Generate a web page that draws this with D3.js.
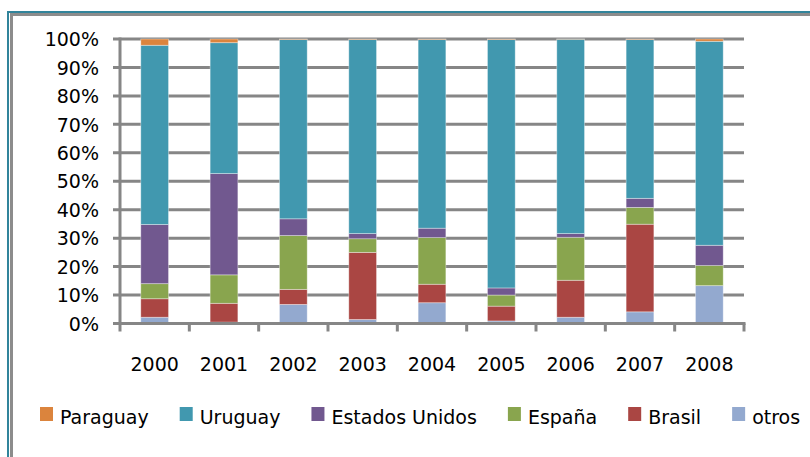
<!DOCTYPE html>
<html>
<head>
<meta charset="utf-8">
<script src="https://cdn.jsdelivr.net/npm/d3@7"></script>
<style>
  body { margin: 0; background: #fff; }
  text { font-family: "DejaVu Sans", sans-serif; font-size: 19px; fill: #000; }
</style>
</head>
<body>
<svg id="chart" width="810" height="457"></svg>
<script>
// shares per year, in percent
var years = ["2000", "2001", "2002", "2003", "2004", "2005", "2006", "2007", "2008"];
var otros         = [2.2, 0.5, 6.7, 1.4, 7.3, 0.9, 2.2, 4.1, 13.3];
var brasil        = [6.5, 6.6, 5.3, 23.6, 6.5, 5.2, 13.0, 30.8, 0.0];
var espana        = [5.3, 10.0, 18.9, 4.8, 16.4, 3.9, 15.1, 5.9, 7.1];
var estadosUnidos = [20.8, 35.6, 5.9, 1.8, 3.3, 2.5, 1.3, 3.2, 7.1];
var uruguay       = [63.0, 46.0, 63.0, 68.2, 66.3, 87.3, 68.3, 55.8, 71.7];
var paraguay      = [2.2, 1.3, 0.2, 0.2, 0.2, 0.2, 0.1, 0.2, 0.8];
var yTicks = [0, 10, 20, 30, 40, 50, 60, 70, 80, 90, 100];

// stacking order, bottom to top
var series = [
    {key: "otros", values: otros, color: "#93A9CF"},
    {key: "Brasil", values: brasil, color: "#AA4643"},
    {key: "España", values: espana, color: "#89A54E"},
    {key: "Estados Unidos", values: estadosUnidos, color: "#71588F"},
    {key: "Uruguay", values: uruguay, color: "#4198AF"},
    {key: "Paraguay", values: paraguay, color: "#DB843D"}
];

var table = years.map(function(y, i) {
    var row = {year: y};
    series.forEach(function(s) { row[s.key] = s.values[i]; });
    return row;
});

var svg = d3.select("#chart");
var gridColor = "#868686";

// frame of the chart object
svg.append("path")
    .attr("d", "M8,460 V12 H812")
    .attr("fill", "none").attr("stroke", "#31849B").attr("stroke-width", 2);
svg.append("path")
    .attr("d", "M11.5,460 V14.5 H812")
    .attr("fill", "none").attr("stroke", "#8c8c8c").attr("stroke-width", 3);

var x = d3.scaleBand().domain(years).range([120, 744]).paddingInner(0.6).paddingOuter(0.3);
var y = d3.scaleLinear().domain([0, 100]).range([323.5, 39]);
var step = x.step();

// gridlines
svg.append("g")
    .selectAll("line")
    .data(yTicks)
    .enter().append("line")
    .attr("x1", 113).attr("x2", 744)
    .attr("y1", function(d) { return y(d); })
    .attr("y2", function(d) { return y(d); })
    .attr("stroke", gridColor).attr("stroke-width", 3);

// y labels
svg.append("g")
    .selectAll("text")
    .data(yTicks)
    .enter().append("text")
    .attr("x", 99)
    .attr("y", function(d) { return y(d); })
    .attr("dy", "0.38em")
    .attr("text-anchor", "end")
    .text(function(d) { return d + "%"; });

// bars
var stack = d3.stack().keys(series.map(function(s) { return s.key; }));
var layers = stack(table);

svg.append("g")
    .selectAll("g")
    .data(layers)
    .enter().append("g")
    .attr("fill", function(d, i) { return series[i].color; })
    .selectAll("rect")
    .data(function(d) { return d; })
    .enter().append("rect")
    .attr("x", function(d) { return x(d.data.year); })
    .attr("width", x.bandwidth())
    .attr("y", function(d) { return y(d[1]); })
    .attr("height", function(d) { return y(d[0]) - y(d[1]); })
    .attr("stroke", "#fff").attr("stroke-opacity", 0.45).attr("stroke-width", 0.8);

// axes
svg.append("line")
    .attr("x1", 120).attr("x2", 120).attr("y1", 37.5).attr("y2", 325)
    .attr("stroke", gridColor).attr("stroke-width", 3);
svg.append("line")
    .attr("x1", 113).attr("x2", 745.5).attr("y1", y(0)).attr("y2", y(0))
    .attr("stroke", gridColor).attr("stroke-width", 3);

var tickXs = years.map(function(d) { return x(d) - step * 0.3; }).concat([744]);
svg.append("g")
    .selectAll("line")
    .data(tickXs)
    .enter().append("line")
    .attr("x1", function(d) { return d; })
    .attr("x2", function(d) { return d; })
    .attr("y1", y(0)).attr("y2", 331.5)
    .attr("stroke", gridColor).attr("stroke-width", 3);

svg.append("g")
    .selectAll("text")
    .data(years)
    .enter().append("text")
    .attr("x", function(d) { return x(d) + x.bandwidth() / 2; })
    .attr("y", 371)
    .attr("text-anchor", "middle")
    .text(function(d) { return d; });

// legend, reversed order
var legend = svg.append("g");
var lx = 40;
series.slice().reverse().forEach(function(s) {
    legend.append("rect")
        .attr("x", lx).attr("y", 407)
        .attr("width", 13).attr("height", 14)
        .attr("fill", s.color);
    var t = legend.append("text")
        .attr("x", lx + 20).attr("y", 424)
        .text(s.key);
    lx += 20 + t.node().getComputedTextLength() + 31;
});
</script>
</body>
</html>
